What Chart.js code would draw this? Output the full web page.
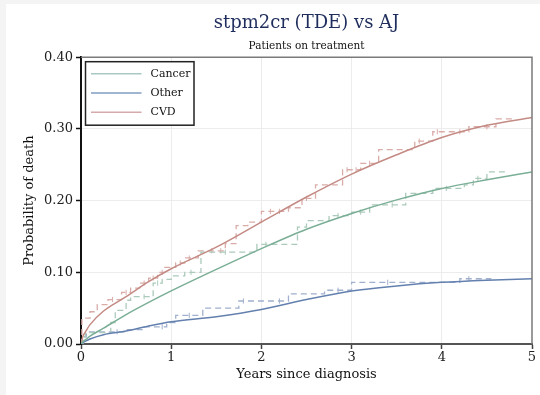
<!DOCTYPE html>
<html><head><meta charset="utf-8">
<script src="https://cdn.jsdelivr.net/npm/chart.js@4/dist/chart.umd.min.js"></script>
<style>html,body{margin:0;padding:0;background:#fff;overflow:hidden}</style>
</head><body>
<canvas id="c" width="540" height="395" style="display:block;width:540px;height:395px"></canvas>
<script>
// ---- model (stpm2cr TDE) curves ----
const modelTimes  = [0, 0.02, 0.05, 0.1, 0.25, 0.5, 0.75, 1, 1.5, 2, 2.5, 3, 3.5, 4, 4.5, 5];
const cancerModel = [0, 0.003, 0.006, 0.011, 0.022, 0.041, 0.058, 0.074, 0.104, 0.133, 0.160, 0.182, 0.201, 0.217, 0.229, 0.240];
const otherModel  = [0, 0.002, 0.004, 0.007, 0.013, 0.018, 0.025, 0.031, 0.038, 0.048, 0.062, 0.074, 0.081, 0.086, 0.089, 0.091];
const cvdModel    = [0, 0.010, 0.017, 0.027, 0.046, 0.066, 0.087, 0.105, 0.135, 0.170, 0.205, 0.237, 0.264, 0.288, 0.305, 0.316];

// ---- Aalen-Johansen step estimates ----
const cancerAJTimes = [0, 0.02, 0.05, 0.33, 0.38, 0.5, 0.55, 0.8, 0.9, 1.0, 1.15, 1.33, 1.95, 2.4, 2.5, 2.75, 3.0, 3.2, 3.6, 3.9, 4.25, 4.35, 4.5, 4.72];
const cancerAJ      = [0, 0.010, 0.016, 0.030, 0.047, 0.061, 0.066, 0.085, 0.090, 0.095, 0.100, 0.128, 0.139, 0.163, 0.172, 0.179, 0.184, 0.194, 0.210, 0.217, 0.222, 0.231, 0.240, 0.240];
const otherAJTimes  = [0, 0.02, 0.06, 0.5, 0.7, 0.95, 1.05, 1.35, 1.75, 2.3, 2.7, 3.0, 4.2, 4.55];
const otherAJ       = [0, 0.010, 0.017, 0.020, 0.024, 0.030, 0.040, 0.050, 0.060, 0.070, 0.075, 0.086, 0.091, 0.091];
const cvdAJTimes    = [0, 0.01, 0.1, 0.18, 0.3, 0.45, 0.55, 0.65, 0.75, 0.85, 0.93, 1.05, 1.15, 1.3, 1.6, 1.72, 1.85, 2.0, 2.3, 2.45, 2.6, 2.9, 3.1, 3.3, 3.7, 3.9, 4.3, 4.6, 4.8];
const cvdAJ         = [0, 0.036, 0.045, 0.055, 0.062, 0.072, 0.078, 0.085, 0.092, 0.100, 0.107, 0.113, 0.120, 0.130, 0.140, 0.165, 0.170, 0.185, 0.190, 0.203, 0.222, 0.243, 0.252, 0.271, 0.283, 0.296, 0.303, 0.314, 0.314];

// ---- censoring times marked on the step curves ----
const cancerCensor = [0.7, 0.85, 1.22, 1.6, 2.05, 2.85, 3.1, 3.45, 4.05, 4.4];
const otherCensor  = [0.4, 0.9, 1.2, 1.8, 2.2, 2.85, 3.4, 4.3];
const cvdCensor    = [0.35, 0.5, 0.7, 0.8, 0.9, 1.1, 1.2, 1.45, 1.55, 2.1, 2.2, 2.5, 2.95, 3.05, 3.2, 3.75, 3.95, 4.2, 4.5];

const causes  = ['Cancer', 'Other', 'CVD'];
const yTicks  = [0, 0.1, 0.2, 0.3, 0.4];
const xTicks  = [0, 1, 2, 3, 4, 5];

const solidColors  = {Cancer:'#7aae96', Other:'#6380ae', CVD:'#c48a84'};
const dashColors   = {Cancer:'#abcabb', Other:'#a0b0cd', CVD:'#d9aca8'};
const legendColors = {Cancer:'#a8c8c6', Other:'#7f9cc0', CVD:'#d6aaaa'};

const pts = (xs, ys) => xs.map((x, i) => ({x, y: ys[i]}));
const stepAt = (xs, ys, t) => { let v = ys[0]; xs.forEach((x, i) => { if (x <= t) v = ys[i]; }); return v; };
const censorPts = (cs, xs, ys) => cs.map(t => ({x: t, y: stepAt(xs, ys, t)}));

const censorDs = (label, cs, xs, ys, col) => ({label, data: censorPts(cs, xs, ys), showLine: false,
  pointStyle: 'line', rotation: 90, pointRadius: 2.6, pointBorderWidth: 1, borderColor: col, backgroundColor: col});

const datasets = [
  {label:'Cancer', data: pts(modelTimes, cancerModel), borderColor: solidColors.Cancer, borderWidth:1.5, pointRadius:0, cubicInterpolationMode:'monotone'},
  {label:'Other',  data: pts(modelTimes, otherModel),  borderColor: solidColors.Other,  borderWidth:1.5, pointRadius:0, cubicInterpolationMode:'monotone'},
  {label:'CVD',    data: pts(modelTimes, cvdModel),    borderColor: solidColors.CVD,    borderWidth:1.5, pointRadius:0, cubicInterpolationMode:'monotone'},
  {label:'Cancer AJ', data: pts(cancerAJTimes, cancerAJ), borderColor: dashColors.Cancer, borderWidth:1.3, borderDash:[6,4], pointRadius:0, stepped:'before'},
  {label:'Other AJ',  data: pts(otherAJTimes, otherAJ),   borderColor: dashColors.Other,  borderWidth:1.3, borderDash:[6,4], pointRadius:0, stepped:'before'},
  {label:'CVD AJ',    data: pts(cvdAJTimes, cvdAJ),       borderColor: dashColors.CVD,    borderWidth:1.3, borderDash:[6,4], pointRadius:0, stepped:'before'},
  censorDs('Cancer censored', cancerCensor, cancerAJTimes, cancerAJ, dashColors.Cancer),
  censorDs('Other censored',  otherCensor,  otherAJTimes,  otherAJ,  dashColors.Other),
  censorDs('CVD censored',    cvdCensor,    cvdAJTimes,    cvdAJ,    dashColors.CVD)
];

const FONT = 'DejaVu Serif';
Chart.defaults.font.family = FONT;

const framePlugin = {
  id: 'frame',
  beforeDraw(chart) {
    const ctx = chart.ctx;
    ctx.save();
    ctx.fillStyle = '#f4f4f4';
    ctx.fillRect(0, 0, chart.width, chart.height);
    ctx.fillStyle = '#ffffff';
    ctx.fillRect(6, 4, chart.width - 6, chart.height - 4);
    ctx.restore();
  },
  afterDraw(chart) {
    const ctx = chart.ctx, a = chart.chartArea;
    ctx.save();
    ctx.strokeStyle = '#7a7a7a';
    ctx.lineWidth = 1.5;
    ctx.beginPath();
    ctx.moveTo(a.left, a.top); ctx.lineTo(a.right, a.top); ctx.lineTo(a.right, a.bottom);
    ctx.stroke();
    // legend
    const lx = a.left + 4.5, ly = a.top + 4.5, lw = 108.5, lh = 63.5;
    ctx.fillStyle = '#fff';
    ctx.fillRect(lx, ly, lw, lh);
    ctx.strokeStyle = '#222';
    ctx.lineWidth = 1.5;
    ctx.strokeRect(lx, ly, lw, lh);
    ctx.font = '11px "' + FONT + '"';
    ctx.textBaseline = 'middle';
    causes.forEach((c, i) => {
      const yy = ly + 12 + i * 19.3;
      ctx.strokeStyle = legendColors[c];
      ctx.lineWidth = 1.5;
      ctx.beginPath(); ctx.moveTo(lx + 5.5, yy); ctx.lineTo(lx + 56, yy); ctx.stroke();
      ctx.fillStyle = '#111';
      ctx.fillText(c, lx + 65, yy);
    });
    ctx.restore();
  }
};

new Chart(document.getElementById('c'), {
  type: 'line',
  data: { datasets },
  plugins: [framePlugin],
  options: {
    responsive: false,
    devicePixelRatio: 1,
    animation: false,
    layout: { padding: { left: 0, right: 8, top: 0, bottom: 0 } },
    plugins: {
      legend: { display: false },
      tooltip: { enabled: false },
      title: { display: true, text: 'stpm2cr (TDE) vs AJ', fullSize: false, color: '#1f2d5c',
               font: { family: FONT, size: 18, weight: 'normal', lineHeight: 1.2 }, padding: { top: 13, bottom: 2 } },
      subtitle: { display: true, text: 'Patients on treatment', fullSize: false, color: '#111',
               font: { family: FONT, size: 10.5, weight: 'normal', lineHeight: 1.2 }, padding: { top: 3, bottom: 5 } }
    },
    scales: {
      x: {
        type: 'linear', min: 0, max: 5,
        afterBuildTicks: s => { s.ticks = xTicks.map(v => ({value: v})); },
        afterFit: s => { s.height = 51; },
        ticks: { color: '#222', font: { family: FONT, size: 13 }, padding: 1, callback: v => String(v) },
        grid: { color: c => (c.tick && (c.tick.value === 0 || c.tick.value === 5)) ? 'rgba(0,0,0,0)' : '#ececec',
                lineWidth: 1, drawTicks: true, tickLength: 5, tickColor: '#444', tickWidth: 1.5 },
        border: { display: true, color: '#555', width: 2 },
        title: { display: true, text: 'Years since diagnosis', color: '#111', font: { family: FONT, size: 13 }, padding: { top: 0, bottom: 13 } }
      },
      y: {
        type: 'linear', min: 0, max: 0.4,
        afterBuildTicks: s => { s.ticks = yTicks.map(v => ({value: v})); },
        afterFit: s => { s.width = 81; },
        ticks: { color: '#222', font: { family: FONT, size: 13 }, padding: 3, callback: v => Number(v).toFixed(2) },
        grid: { color: c => (c.tick && (c.tick.value === 0 || Math.abs(c.tick.value - 0.4) < 1e-9)) ? 'rgba(0,0,0,0)' : '#ececec',
                lineWidth: 1, drawTicks: true, tickLength: 5, tickColor: '#111', tickWidth: 1.5 },
        border: { display: true, color: '#111', width: 2 },
        title: { display: true, text: 'Probability of death', color: '#111', font: { family: FONT, size: 13 }, padding: { top: 22, bottom: 0 } }
      }
    }
  }
});
</script>
</body></html>
